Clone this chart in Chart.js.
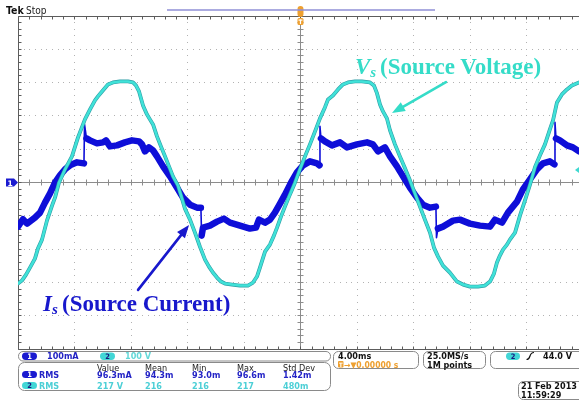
<!DOCTYPE html>
<html>
<head>
<meta charset="utf-8">
<script src="https://cdn.jsdelivr.net/npm/chart.js@4"></script>
<style>
  html, body { margin: 0; padding: 0; background: #fff; overflow: hidden; }
  #wrap { position: relative; width: 579px; height: 400px; }
  #scope { position: absolute; left: 0; top: 0; }
  #ovl { position: absolute; left: 0; top: 0; pointer-events: none; }
  .ro { font-family: 'DejaVu Sans Condensed', 'DejaVu Sans', sans-serif; font-size: 9px; }
</style>
</head>
<body>
<div id="wrap">
<canvas id="scope" width="579" height="400"></canvas>
<svg id="ovl" width="579" height="400" xmlns="http://www.w3.org/2000/svg">
  <!-- status header -->
  <text x="6" y="14" font-family="'DejaVu Sans Condensed','DejaVu Sans',sans-serif" font-size="10.5" font-weight="bold" fill="#111">Tek</text>
  <text x="26" y="14" font-family="'DejaVu Sans Condensed','DejaVu Sans',sans-serif" font-size="10" fill="#222">Stop</text>
  <line x1="167" y1="10" x2="435" y2="10" stroke="#8f8fd6" stroke-width="1.6"/>

  <!-- channel 1 reference marker -->
  <path d="M6 178.5 H14 L18 182.5 L14 186.5 H6 Z" fill="#1a1ad0"/>
  <text x="10" y="185.5" font-family="'DejaVu Sans',sans-serif" font-size="7.5" font-weight="bold" fill="#fff" text-anchor="middle">1</text>
  <!-- channel 2 marker at right edge -->
  <path d="M579 167 L575 170 L579 173 Z" fill="#3fd8d0"/>

  <!-- waveform labels -->
  <text x="355" y="74" font-family="'Liberation Serif','Times New Roman',serif" font-size="23" font-weight="bold" fill="#35dcc8"><tspan font-style="italic">V</tspan><tspan font-style="italic" font-size="15" dy="3">s</tspan><tspan x="380" dy="-3">(Source Voltage)</tspan></text>
  <text x="43" y="311" font-family="'Liberation Serif','Times New Roman',serif" font-size="23" font-weight="bold" fill="#1818cc"><tspan font-style="italic">I</tspan><tspan font-style="italic" font-size="15" dy="3">s</tspan><tspan x="62" dy="-3">(Source Current)</tspan></text>

  <!-- vertical scale readout -->
  <g class="ro">
    <rect x="18.5" y="351.5" width="312" height="9.5" rx="4.5" fill="none" stroke="#8a8a8a"/>
    <rect x="22" y="352.5" width="15" height="7.5" rx="3.7" fill="#1a1ad0"/>
    <text x="29.5" y="359" font-size="7.5" font-weight="bold" fill="#fff" text-anchor="middle">1</text>
    <text x="47" y="359" font-weight="bold" fill="#2222c4">100mA</text>
    <rect x="100" y="352.5" width="15" height="7.5" rx="3.7" fill="#42d6d6"/>
    <text x="107.5" y="359" font-size="7.5" font-weight="bold" fill="#1a1a80" text-anchor="middle">2</text>
    <text x="125" y="359" font-weight="bold" fill="#62d8d8">100 V</text>

    <!-- measurement table -->
    <rect x="18.5" y="362.5" width="312" height="28" rx="6" fill="none" stroke="#8a8a8a"/>
    <text y="370.5" fill="#222"><tspan x="97">Value</tspan><tspan x="145">Mean</tspan><tspan x="192">Min</tspan><tspan x="237">Max</tspan><tspan x="283">Std Dev</tspan></text>
    <rect x="22" y="371" width="15" height="7" rx="3.5" fill="#1a1ad0"/>
    <text x="29.5" y="377.2" font-size="7.5" font-weight="bold" fill="#fff" text-anchor="middle">1</text>
    <text y="378" font-weight="bold" fill="#2424c6"><tspan x="39">RMS</tspan><tspan x="97">96.3mA</tspan><tspan x="145">94.3m</tspan><tspan x="192">93.0m</tspan><tspan x="237">96.6m</tspan><tspan x="283">1.42m</tspan></text>
    <rect x="22" y="382" width="15" height="7" rx="3.5" fill="#42d6d6"/>
    <text x="29.5" y="388.2" font-size="7.5" font-weight="bold" fill="#1a1a80" text-anchor="middle">2</text>
    <text y="389" font-weight="bold" fill="#4ccfd6"><tspan x="39">RMS</tspan><tspan x="97">217 V</tspan><tspan x="145">216</tspan><tspan x="192">216</tspan><tspan x="237">217</tspan><tspan x="283">480m</tspan></text>

    <!-- horizontal / acquisition / trigger readouts -->
    <rect x="333.5" y="351.5" width="85" height="17" rx="5" fill="none" stroke="#8a8a8a"/>
    <text x="338" y="359" font-weight="bold" fill="#111">4.00ms</text>
    <rect x="338" y="361" width="5.5" height="6.5" rx="1" fill="#eea030"/>
    <text x="340.75" y="366.8" font-size="6" font-weight="bold" fill="#fff" text-anchor="middle">T</text>
    <text x="344" y="367.5" font-size="8.5" font-weight="bold" fill="#eea030">→▼0.00000 s</text>

    <rect x="423.5" y="351.5" width="62" height="17" rx="5" fill="none" stroke="#8a8a8a"/>
    <text x="427" y="359" font-weight="bold" fill="#111">25.0MS/s</text>
    <text x="427" y="367.5" font-weight="bold" fill="#111">1M points</text>

    <rect x="490.5" y="351.5" width="100" height="17" rx="5" fill="none" stroke="#8a8a8a"/>
    <rect x="506" y="352.5" width="14" height="7.5" rx="3.7" fill="#42d6d6"/>
    <text x="513" y="359" font-size="7.5" font-weight="bold" fill="#1a1a80" text-anchor="middle">2</text>
    <path d="M526.5 359.5 Q529 359.5 530 356 Q531 352.5 534 352.5" fill="none" stroke="#111" stroke-width="1.2"/>
    <text x="543" y="359" font-weight="bold" fill="#111">44.0 V</text>

    <rect x="518.5" y="381.5" width="70" height="18" rx="5" fill="none" stroke="#8a8a8a"/>
    <text x="521" y="389" font-weight="bold" fill="#111">21 Feb  2013</text>
    <text x="521" y="397.5" font-weight="bold" fill="#111">11:59:29</text>
  </g>
</svg>
</div>

<script>
// Channel 1: source current (100 mA/div), time in ms relative to trigger
const currentTimeMs = [
  -20.00, -19.65, -19.36, -19.08, -18.80, -18.44, -18.09, -17.74, -17.38, -17.03,
  -16.67, -16.32, -15.82, -15.33, -15.29, -15.15, -14.90, -14.41, -13.98, -13.77,
  -13.49, -12.99, -12.43, -11.93, -11.43, -11.22, -11.01, -10.73, -10.44, -10.16,
  -9.73, -9.24, -8.74, -8.32, -7.82, -7.33, -7.05, -7.00, -6.90, -6.41,
  -5.91, -5.42, -4.99, -4.28, -3.58, -3.15, -2.94, -2.51, -2.16, -1.81,
  -1.45, -1.10, -0.67, -0.25, 0.18, 0.67, 1.17, 1.35, 1.38, 1.45,
  1.73, 2.23, 2.80, 3.29, 4.00, 4.71, 5.13, 5.49, 5.98, 6.34,
  6.83, 7.26, 7.75, 8.25, 8.67, 9.17, 9.59, 9.63, 9.73, 10.09,
  10.80, 11.29, 12.00, 12.71, 13.42, 13.77, 14.27, 14.69, 15.33, 15.75,
  16.25, 16.74, 17.17, 17.66, 17.98, 18.02, 18.09, 18.37, 18.87, 19.29,
  19.72
];
const currentMA = [
  -134, -112, -125, -116, -107, -92, -62, -35, -2, 20,
  38, 50, 59, 56, 173, 131, 125, 116, 119, 125,
  107, 110, 119, 125, 122, 113, 92, 104, 95, 77,
  47, 17, -17, -47, -68, -77, -77, -161, -137, -131,
  -119, -110, -122, -131, -140, -137, -113, -122, -113, -92,
  -65, -38, -2, 29, 50, 62, 56, 50, 167, 131,
  122, 110, 119, 104, 113, 119, 113, 92, 104, 77,
  47, 17, -17, -47, -68, -77, -74, -167, -140, -134,
  -116, -113, -125, -131, -134, -113, -122, -92, -59, -22,
  8, 38, 56, 62, 53, 179, 131, 125, 110, 104,
  92
];

// Channel 2: source voltage (100 V/div)
const voltageTimeMs = [
  -20.00, -19.72, -19.43, -19.15, -18.80, -18.59, -18.30, -17.95, -17.59, -17.38,
  -17.10, -16.67, -16.18, -15.75, -15.26, -14.90, -14.55, -14.34, -14.05, -13.63,
  -13.28, -12.78, -12.21, -11.86, -11.65, -11.43, -11.15, -10.87, -10.66, -10.44,
  -10.16, -9.88, -9.59, -9.31, -9.03, -8.67, -8.39, -8.18, -7.82, -7.47,
  -7.12, -6.76, -6.48, -6.20, -5.91, -5.63, -5.35, -4.85, -4.28, -3.72,
  -3.36, -3.08, -2.87, -2.51, -2.16, -1.88, -1.66, -1.38, -1.10, -0.81,
  -0.60, -0.39, -0.04, 0.32, 0.67, 1.03, 1.38, 1.73, 1.95, 2.30,
  2.66, 3.01, 3.36, 3.86, 4.35, 4.92, 5.20, 5.42, 5.63, 5.84,
  6.12, 6.34, 6.69, 7.04, 7.40, 7.75, 8.11, 8.46, 8.81, 9.17,
  9.45, 9.74, 10.09, 10.58, 11.08, 11.51, 12.00, 12.57, 13.06, 13.42,
  13.70, 13.91, 14.12, 14.34, 14.62, 14.83, 15.19, 15.54, 15.89, 16.25,
  16.60, 16.96, 17.31, 17.66, 17.88, 18.16, 18.51, 18.87, 19.22, 19.72
];
const voltageV = [
  -305, -296, -278, -257, -230, -200, -173, -116, -71, -47,
  -2, 38, 77, 134, 188, 218, 245, 257, 272, 293,
  299, 302, 302, 299, 290, 272, 230, 203, 188, 173,
  137, 107, 77, 47, 17, -11, -50, -80, -113, -152,
  -194, -233, -254, -272, -287, -299, -305, -308, -311, -311,
  -302, -284, -257, -209, -188, -161, -137, -104, -74, -44,
  -23, -2, 38, 77, 113, 152, 191, 224, 248, 260,
  278, 293, 299, 302, 302, 299, 290, 266, 233, 212,
  191, 155, 113, 77, 41, 5, -35, -74, -113, -152,
  -197, -224, -251, -272, -299, -308, -314, -314, -311, -299,
  -275, -242, -221, -203, -188, -173, -152, -101, -56, -8,
  44, 80, 113, 158, 185, 239, 263, 278, 290, 299
];

// annotation arrows, in (ms, value) coordinates
const voltageArrow = { from: [10.30, 300], to: [6.48, 207] };
const currentArrow = { from: [-11.50, -324], to: [-7.89, -129] };

const toPoints = (ts, vs) => ts.map((t, i) => ({ x: t, y: vs[i] }));

// switching edges of the current are thin fast transitions, not part of the noisy band
const edgeWidth = ctx => {
  const a = ctx.p0.parsed, b = ctx.p1.parsed;
  const slope = Math.abs((b.y - a.y) / (b.x - a.x));
  return slope > 250 ? 1.6 : undefined;
};

function drawArrow(ctx, x0, y0, x1, y1, color, width, headLen, headW) {
  const a = Math.atan2(y1 - y0, x1 - x0);
  const c = Math.cos(a), s = Math.sin(a);
  ctx.strokeStyle = color; ctx.fillStyle = color;
  ctx.lineWidth = width; ctx.lineCap = 'round';
  ctx.beginPath();
  ctx.moveTo(x0, y0);
  ctx.lineTo(x1 - c * headLen * 0.7, y1 - s * headLen * 0.7);
  ctx.stroke();
  ctx.beginPath();
  ctx.moveTo(x1, y1);
  ctx.lineTo(x1 - c * headLen + s * headW / 2, y1 - s * headLen - c * headW / 2);
  ctx.lineTo(x1 - c * headLen - s * headW / 2, y1 - s * headLen + c * headW / 2);
  ctx.closePath();
  ctx.fill();
}

// oscilloscope graticule: dotted divisions, centre crosshair, framed edges
const graticule = {
  id: 'graticule',
  beforeDatasetsDraw(chart) {
    const { ctx, chartArea: a, scales: { x, yV } } = chart;
    const px = t => Math.round(x.getPixelForValue(t));
    const py = v => Math.round(yV.getPixelForValue(v));
    ctx.save();
    ctx.fillStyle = '#b2b2b2';
    for (let t = -16; t <= 16; t += 4) {
      if (t === 0) continue;
      for (let v = -500; v <= 500; v += 20) ctx.fillRect(px(t), py(v), 1, 1);
    }
    for (let v = -400; v <= 400; v += 100) {
      if (v === 0) continue;
      for (let t = -20; t <= 19.7; t += 0.4) ctx.fillRect(px(t), py(v), 1, 1);
    }
    // crosshair
    ctx.strokeStyle = '#8c8c8c';
    ctx.lineWidth = 1;
    const cx = px(0) + 0.5, cy = py(0) + 0.5;
    ctx.beginPath();
    ctx.moveTo(a.left, cy); ctx.lineTo(a.right, cy);
    ctx.moveTo(cx, a.top); ctx.lineTo(cx, a.bottom);
    for (let t = -20; t <= 19.7; t += 0.8) {
      const xx = px(t) + 0.5; ctx.moveTo(xx, cy - 3); ctx.lineTo(xx, cy + 3);
    }
    for (let v = -500; v <= 500; v += 20) {
      const yy = py(v) + 0.5; ctx.moveTo(cx - 3, yy); ctx.lineTo(cx + 3, yy);
    }
    ctx.stroke();
    // frame
    ctx.strokeStyle = '#5c5c5c';
    const L = Math.round(a.left) + 0.5, T = Math.round(a.top) + 0.5, B = Math.round(a.bottom) + 0.5;
    ctx.beginPath();
    ctx.moveTo(a.right, T); ctx.lineTo(L, T); ctx.lineTo(L, B); ctx.lineTo(a.right, B);
    for (let t = -20; t <= 19.7; t += 0.8) {
      const xx = px(t) + 0.5;
      ctx.moveTo(xx, T); ctx.lineTo(xx, T + 3);
      ctx.moveTo(xx, B); ctx.lineTo(xx, B - 3);
    }
    for (let v = -500; v <= 500; v += 20) {
      const yy = py(v) + 0.5; ctx.moveTo(L, yy); ctx.lineTo(L + 3, yy);
    }
    ctx.stroke();
    ctx.restore();
  },
  afterDatasetsDraw(chart) {
    const { ctx, scales: { x, yV, yI } } = chart;
    ctx.save();
    drawArrow(ctx,
      x.getPixelForValue(voltageArrow.from[0]), yV.getPixelForValue(voltageArrow.from[1]),
      x.getPixelForValue(voltageArrow.to[0]), yV.getPixelForValue(voltageArrow.to[1]),
      '#35dcc8', 2.6, 13, 10);
    drawArrow(ctx,
      x.getPixelForValue(currentArrow.from[0]), yI.getPixelForValue(currentArrow.from[1]),
      x.getPixelForValue(currentArrow.to[0]), yI.getPixelForValue(currentArrow.to[1]),
      '#1818cc', 2.6, 13, 10);
    // trigger position marker at t = 0
    const tx = x.getPixelForValue(0);
    ctx.fillStyle = '#eea030';
    ctx.beginPath(); ctx.roundRect(tx - 3, 6, 6, 11, 3); ctx.fill();
    ctx.beginPath(); ctx.roundRect(tx - 3, 18, 6, 7, 1.5); ctx.fill();
    ctx.fillStyle = '#fff';
    ctx.fillRect(tx - 2, 19.5, 4, 1.2);
    ctx.fillRect(tx - 0.6, 19.5, 1.2, 4.5);
    ctx.restore();
  }
};

new Chart(document.getElementById('scope'), {
  type: 'line',
  data: {
    datasets: [
      {
        label: 'Vs',
        data: toPoints(voltageTimeMs, voltageV),
        yAxisID: 'yV',
        borderColor: '#40e2d8',
        borderWidth: 2.6,
        order: 0
      },
      {
        label: 'Vs edge',
        data: toPoints(voltageTimeMs, voltageV),
        yAxisID: 'yV',
        borderColor: '#2f9ea6',
        borderWidth: 3.8,
        order: 1
      },
      {
        label: 'Is',
        data: toPoints(currentTimeMs, currentMA),
        yAxisID: 'yI',
        borderColor: '#0e0ed8',
        borderWidth: 6.5,
        segment: { borderWidth: edgeWidth },
        order: 2
      }
    ]
  },
  options: {
    responsive: false,
    animation: false,
    devicePixelRatio: 1,
    events: [],
    layout: { padding: { left: 18, right: 0, top: 15.5, bottom: 51.5 } },
    elements: {
      point: { radius: 0 },
      line: { tension: 0, borderJoinStyle: 'round', borderCapStyle: 'round', fill: false }
    },
    scales: {
      x: { type: 'linear', min: -20, max: 19.72, display: false },
      yV: { type: 'linear', min: -500, max: 500, display: false },
      yI: { type: 'linear', min: -500, max: 500, display: false }
    },
    plugins: { legend: { display: false }, tooltip: { enabled: false } }
  },
  plugins: [graticule]
});
</script>
</body>
</html>
